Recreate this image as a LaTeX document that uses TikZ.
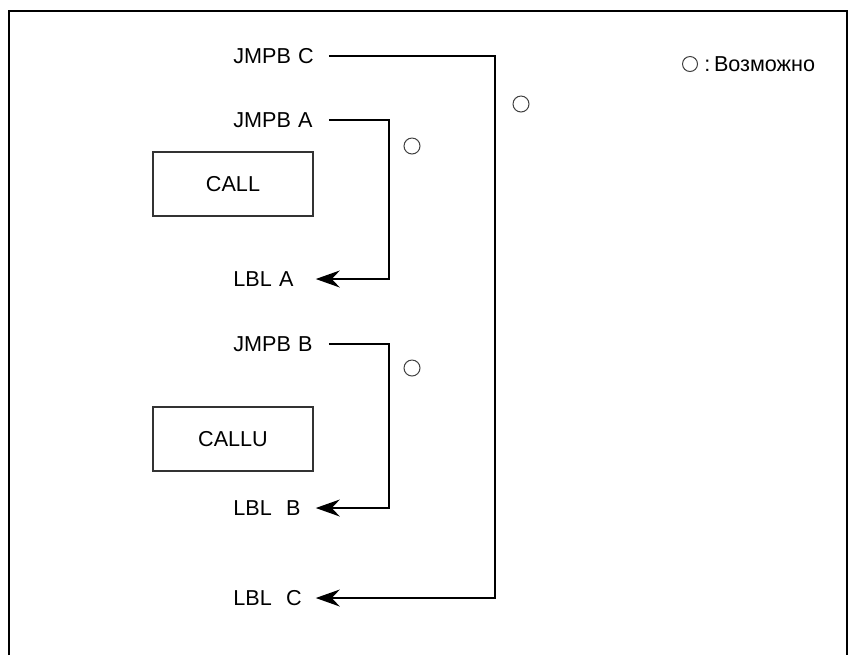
\documentclass[tikz,border=0pt]{standalone}
\usepackage{fontspec}
\setmainfont{Liberation Sans}
\usetikzlibrary{arrows.meta,positioning,calc}
\tikzset{
  lbl/.style={anchor=west, inner sep=0pt, text width=41pt, align=left,
    font=\fontsize{10.8}{13}\selectfont},
  subr/.style={draw=black!80, line width=0.6pt, minimum width=80pt,
    minimum height=32pt, font=\fontsize{10.8}{13}\selectfont},
  okmark/.style={circle, draw=black!75, line width=0.5pt, minimum size=8pt,
    inner sep=0pt},
  jline/.style={line width=0.6pt, shorten <=6.5pt},
  jto/.style={jline, -{Stealth[length=12pt, width=8.5pt, inset=4pt]}}
}

\begin{document}
\begin{tikzpicture}[x=0.5pt, y=-0.5pt]
  \useasboundingbox (0,0) rectangle (850,655);
  % frame, open at the bottom
  \draw[line width=1.25pt] (9,655) -- (9,11) -- (847,11) -- (847,655);

  % program lines
  \node[lbl] (jmpc) at (233,56) {JMPB C};
  \node[lbl] (jmpa) at (233,120) {JMPB A};
  \node[lbl] (lbla) at (233,279) {LBL A};
  \node[lbl] (jmpb) at (233,344) {JMPB B};
  \node[lbl] (lblb) at (233,508) {LBL\ \ B};
  \node[lbl] (lblc) at (233,598) {LBL\ \ C};

  % subprogram calls
  \node[subr] (call) at (233,184) {CALL};
  \node[subr] (callu) at (233,439) {CALLU};

  % jump paths
  \coordinate (colA) at (389,0);
  \coordinate (colB) at (389,0);
  \coordinate (colC) at (495,0);
  \draw[jto] (jmpa.east) -| (colA |- lbla.east) -- (lbla.east);
  \draw[jto] (jmpb.east) -| (colB |- lblb.east) -- (lblb.east);
  \draw[jto] (jmpc.east) -| (colC |- lblc.east) -- (lblc.east);

  % allowed marks
  \node[okmark] (oka) at (412,146) {};
  \node[okmark] (okb) at (412,368) {};
  \node[okmark] (okc) at (521,104) {};

  % legend
  \node[okmark, minimum size=7.5pt] (okkey) at (690,64) {};
  \node[right=3pt of okkey, inner sep=0pt, font=\fontsize{10.8}{13}\selectfont]
    (keytxt) {:\,Возможно};
\end{tikzpicture}
\end{document}
